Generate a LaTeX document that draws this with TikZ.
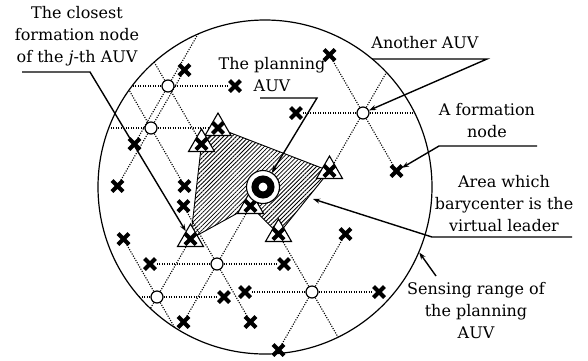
\documentclass[tikz,border=0pt]{standalone}
\usepackage{fontspec}
\setmainfont{DejaVu Serif}
\usetikzlibrary{arrows.meta, positioning, shapes.geometric, shapes.misc, patterns.meta}

\pgfdeclarelayer{bg}
\pgfsetlayers{bg,main}

\begin{document}
\begin{tikzpicture}[
  x=1pt, y=-1pt,
  auv/.style={circle, draw, fill=white, line width=1.2pt,
              minimum size=12pt, inner sep=0pt},
  fx/.style={cross out, draw, line width=4pt, minimum size=7pt, inner sep=0pt},
  cn/.style={regular polygon, regular polygon sides=3, draw, fill=white,
             line width=1.1pt, minimum size=30pt, inner sep=0pt},
  ray/.style={line width=1.1pt, dash pattern=on 1.1pt off 1.4pt},
  ldline/.style={line width=1.4pt},
  ldarrow/.style={ldline, -{Stealth[length=7pt, width=5pt]}},
  txt/.style={font=\fontsize{16}{22}\selectfont, align=center}
]
  \useasboundingbox (0,0) rectangle (588,360);

  % Sensing range of the planning AUV
  \node[circle, draw, line width=1.2pt, minimum size=334pt, inner sep=0pt] (rng) at (265,187) {};

  % Other AUVs
  \node[auv] (a1) at (168,86) {};
  \node[auv] (a2) at (151,128) {};
  \node[auv] (a3) at (363,113) {};
  \node[auv] (a4) at (217,264) {};
  \node[auv] (a5) at (157,297) {};
  \node[auv] (a6) at (312,292) {};

  % Formation nodes
  \node[fx] (a1e) at (235,86) {};
  \node[fx] (a1sw) at (134.5,144) {};
  \node[fx] (a2ne) at (184.5,70) {};
  \node[fx] (a2sw) at (117.5,186) {};
  \node[fx] (a2se) at (184.5,186) {};
  \node[fx] (a3w) at (296,113) {};
  \node[fx] (a3nw) at (329.5,55) {};
  \node[fx] (a3se) at (396.5,171) {};
  \node[fx] (a4e) at (284,264) {};
  \node[fx] (a4w) at (150,264) {};
  \node[fx] (a4nw) at (183.5,206) {};
  \node[fx] (a4sw) at (183.5,322) {};
  \node[fx] (a4se) at (250.5,322) {};
  \node[fx] (a5e) at (224,297) {};
  \node[fx] (a5nw) at (123.5,239) {};
  \node[fx] (a6e) at (379,292) {};
  \node[fx] (a6w) at (245,292) {};
  \node[fx] (a6ne) at (345.5,234) {};
  \node[fx] (a6sw) at (278.5,350) {};

  % Closest formation nodes
  \node[cn] (t1) at (218,128) {};
  \node[fx] (t1x) at (t1) {};
  \node[cn] (t2) at (201.5,144) {};
  \node[fx] (t2x) at (t2) {};
  \node[cn] (t3) at (329.5,171) {};
  \node[fx] (t3x) at (t3) {};
  \node[cn] (t4) at (250.5,206) {};
  \node[fx] (t4x) at (t4) {};
  \node[cn] (t5) at (278.5,234) {};
  \node[fx] (t5x) at (t5) {};
  \node[cn] (t6) at (190.5,239) {};
  \node[fx] (t6x) at (t6) {};

  % Planning AUV
  \node[circle, draw, fill=white, line width=1.1pt, minimum size=33pt, inner sep=0pt] (p) at (263,187) {};
  \node[circle, draw, line width=7pt, minimum size=16pt, inner sep=0pt] (pin) at (p) {};

  % Ray ends outside the sensing range
  \coordinate (a1w) at (101,86);
  \coordinate (a1nw) at (134.5,28);
  \coordinate (a1ne) at (201.5,28);
  \coordinate (a2w) at (84,128);
  \coordinate (a2nw) at (117.5,70);
  \coordinate (a3e) at (430,113);
  \coordinate (a3ne) at (396.5,55);
  \coordinate (a5w) at (90,297);
  \coordinate (a5sw) at (123.5,355);
  \coordinate (a5se) at (190.5,355);
  \coordinate (a6se) at (345.5,350);

  \begin{pgfonlayer}{bg}
    % Area of the virtual leader
    \draw[line width=0.9pt, pattern={Lines[angle=45, distance=3pt, line width=0.8pt]}]
      (t6.center) -- (t2.center) -- (t1.center) -- (t3.center)
      -- (t5.center) -- (t4.center) -- cycle;
    \begin{scope}
      \clip (rng.center) circle [radius=167pt];
      \draw[ray] (a1) -- (a1e);  \draw[ray] (a1) -- (a1w);
      \draw[ray] (a1) -- (a1nw); \draw[ray] (a1) -- (a1ne);
      \draw[ray] (a1) -- (a1sw); \draw[ray] (a1) -- (t2);
      \draw[ray] (a2) -- (t1);   \draw[ray] (a2) -- (a2w);
      \draw[ray] (a2) -- (a2nw); \draw[ray] (a2) -- (a2ne);
      \draw[ray] (a2) -- (a2sw); \draw[ray] (a2) -- (a2se);
      \draw[ray] (a3) -- (a3e);  \draw[ray] (a3) -- (a3w);
      \draw[ray] (a3) -- (a3nw); \draw[ray] (a3) -- (a3ne);
      \draw[ray] (a3) -- (t3);   \draw[ray] (a3) -- (a3se);
      \draw[ray] (a4) -- (a4e);  \draw[ray] (a4) -- (a4w);
      \draw[ray] (a4) -- (a4nw); \draw[ray] (a4) -- (t4);
      \draw[ray] (a4) -- (a4sw); \draw[ray] (a4) -- (a4se);
      \draw[ray] (a5) -- (a5e);  \draw[ray] (a5) -- (a5w);
      \draw[ray] (a5) -- (a5nw); \draw[ray] (a5) -- (t6);
      \draw[ray] (a5) -- (a5sw); \draw[ray] (a5) -- (a5se);
      \draw[ray] (a6) -- (a6e);  \draw[ray] (a6) -- (a6w);
      \draw[ray] (a6) -- (t5);   \draw[ray] (a6) -- (a6ne);
      \draw[ray] (a6) -- (a6sw); \draw[ray] (a6) -- (a6se);
    \end{scope}
  \end{pgfonlayer}

  % Labels
  \node[txt] (lclose) at (77,36) {The closest\\formation node\\of the \textit{j}-th AUV};
  \node[txt] (lplan) at (272,75) {The planning\\AUV};
  \node[txt] (lother) at (425,43) {Another AUV};
  \node[txt] (lform) at (487,121) {A formation\\node};
  \node[txt] (larea) at (504,204) {Area which\\barycenter is the\\virtual leader};
  \node[txt] (lsense) at (476,311) {Sensing range of\\the planning\\AUV};

  % Pointers
  \coordinate (c1a) at (22,72);   \coordinate (c1b) at (90,72);
  \coordinate (c2a) at (260,98);  \coordinate (c2b) at (317,98);
  \coordinate (c3a) at (372,59);  \coordinate (c3b) at (487,59);
  \coordinate (c4a) at (537,146); \coordinate (c4b) at (439,146);
  \coordinate (c5a) at (572,237); \coordinate (c5b) at (432,237);
  \coordinate (c6a) at (436,276);
  \coordinate (area) at (313,199);
  \draw[ldarrow] (c1a) -- (c1b) -- (t6);
  \draw[ldarrow] (c2a) -- (c2b) -- (p);
  \draw[ldarrow] (c3a) -- (c3b) -- (a3);
  \draw[ldarrow] (c4a) -- (c4b) -- (a3se);
  \draw[ldarrow] (c5a) -- (c5b) -- (area);
  \draw[ldarrow] (c6a) -- (rng.-23);
\end{tikzpicture}
\end{document}
